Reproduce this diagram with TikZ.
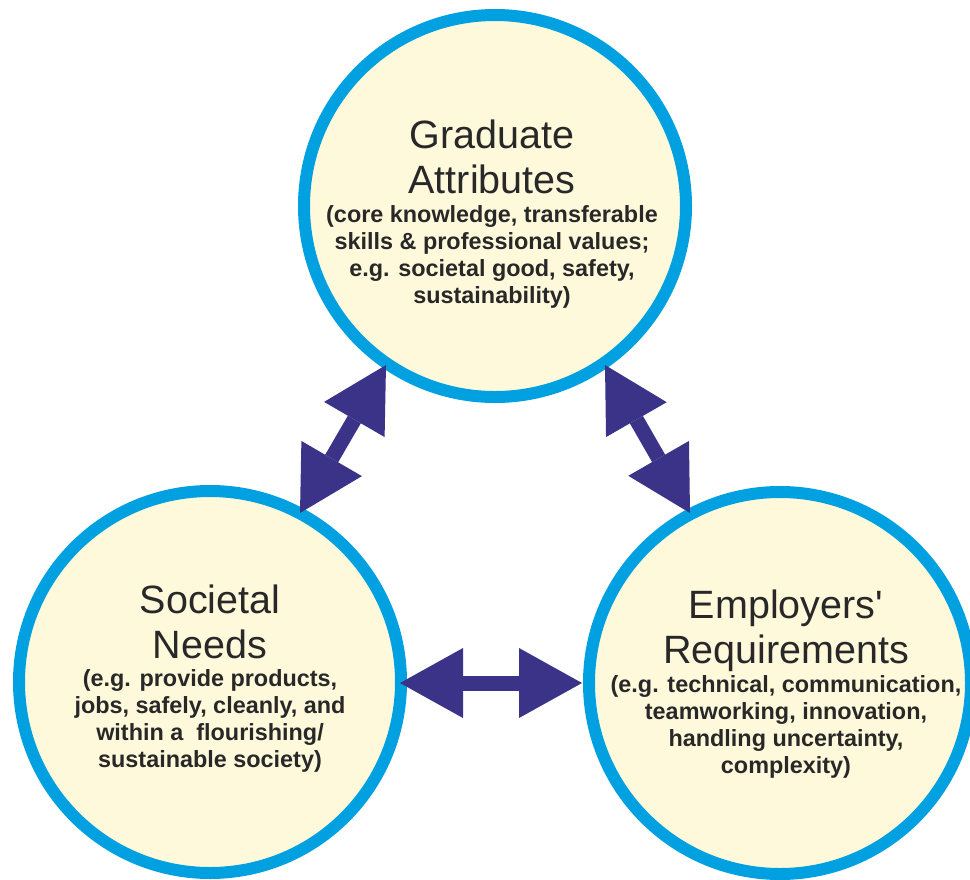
\documentclass[tikz,border=0pt]{standalone}
\usepackage{fontspec}
\setmainfont{Liberation Sans}
\usetikzlibrary{arrows.meta}
\definecolor{ringblue}{RGB}{0,160,225}
\definecolor{cream}{RGB}{255,249,219}
\definecolor{arrowblue}{RGB}{59,51,136}
\definecolor{txt}{RGB}{40,40,40}
\tikzset{
  bubble/.style={circle, draw=ringblue, line width=12pt, fill=cream, minimum size=382pt, inner sep=0pt},
  title/.style={align=center, text=txt, inner sep=0pt, font=\fontsize{39.5}{45}\selectfont},
  sub/.style={align=center, text=txt, inner sep=0pt, font=\fontsize{23.4}{26.7}\selectfont\bfseries},
  dblarrow/.style={draw=arrowblue, line width=15pt,
    {Triangle[length=63pt,width=70pt,line width=0pt]}-{Triangle[length=63pt,width=70pt,line width=0pt]}}
}
\begin{document}
\begin{tikzpicture}[x=1pt,y=-1pt]
\useasboundingbox (0,0) rectangle (970,879);
\fill[white] (0,0) rectangle (970,879);
\node[bubble] (ga) at (495,206) {};
\node[bubble] (sn) at (210,682) {};
\node[bubble] (er) at (780,683) {};
\node[title, anchor=base] (gat) at (492,193) {Graduate\\Attributes};
\node[sub, anchor=base] (gas) at (492,303) {(core knowledge, transferable\\skills \& professional values;\\e.g. societal good, safety,\\sustainability)};
\node[title, anchor=base] (snt) at (210,658) {Societal\\Needs};
\node[sub, anchor=base] (sns) at (210,767) {(e.g. provide products,\\jobs, safely, cleanly, and\\within a~ flourishing/\\sustainable society)};
\node[title, anchor=base] (ert) at (786,663) {Employers\textquotesingle\\Requirements};
\node[sub, anchor=base] (ers) at (786,773) {(e.g. technical, communication,\\teamworking, innovation,\\handling uncertainty,\\complexity)};
\coordinate (a1) at (300,513);
\coordinate (a2) at (386,365);
\coordinate (b1) at (605,365);
\coordinate (b2) at (690,513);
\coordinate (c1) at (400,683);
\coordinate (c2) at (582,683);
\draw[dblarrow] (a1) -- (a2);
\draw[dblarrow] (b1) -- (b2);
\draw[dblarrow] (c1) -- (c2);
\end{tikzpicture}
\end{document}
